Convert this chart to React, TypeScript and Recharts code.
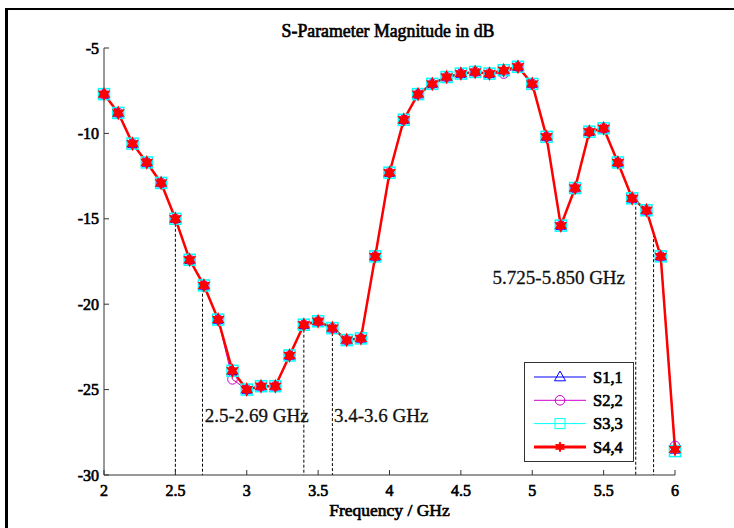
import React from 'react';
import { LineChart, Line, XAxis, YAxis, ReferenceLine, ReferenceDot } from 'recharts';

// Frequency sweep (GHz) and return-loss magnitudes (dB) for the four ports
const freqGHz = [
  2.0, 2.1, 2.2, 2.3, 2.4, 2.5, 2.6, 2.7, 2.8, 2.9,
  3.0, 3.1, 3.2, 3.3, 3.4, 3.5, 3.6, 3.7, 3.8, 3.9,
  4.0, 4.1, 4.2, 4.3, 4.4, 4.5, 4.6, 4.7, 4.8, 4.9,
  5.0, 5.1, 5.2, 5.3, 5.4, 5.5, 5.6, 5.7, 5.8, 5.9, 6.0,
];
const s11 = [
  -7.7, -8.8, -10.6, -11.7, -12.9, -15.0, -17.4, -18.9, -20.9, -23.9,
  -25.0, -24.8, -24.8, -23.0, -21.2, -21.0, -21.4, -22.1, -22.0, -17.2,
  -12.3, -9.2, -7.7, -7.1, -6.7, -6.5, -6.4, -6.5, -6.3, -6.1,
  -7.1, -10.2, -15.4, -13.2, -9.9, -9.7, -11.7, -13.8, -14.5, -17.2, -28.5,
];
const s22 = [
  -7.7, -8.8, -10.6, -11.7, -12.9, -15.0, -17.4, -18.9, -20.9, -24.4,
  -25.0, -24.8, -24.8, -23.0, -21.2, -21.0, -21.4, -22.1, -22.0, -17.2,
  -12.3, -9.2, -7.7, -7.1, -6.7, -6.5, -6.4, -6.5, -6.5, -6.1,
  -7.1, -10.2, -15.4, -13.2, -9.9, -9.7, -11.7, -13.8, -14.5, -17.2, -28.3,
];
const s33 = [
  -7.7, -8.8, -10.6, -11.7, -12.9, -15.0, -17.4, -18.9, -20.9, -23.9,
  -25.0, -24.8, -24.8, -23.0, -21.2, -21.0, -21.4, -22.1, -22.0, -17.2,
  -12.3, -9.2, -7.7, -7.1, -6.7, -6.5, -6.4, -6.5, -6.3, -6.1,
  -7.1, -10.2, -15.4, -13.2, -9.9, -9.7, -11.7, -13.8, -14.5, -17.2, -28.6,
];
const s44 = [
  -7.7, -8.8, -10.6, -11.7, -12.9, -15.0, -17.4, -18.9, -20.9, -23.9,
  -25.0, -24.8, -24.8, -23.0, -21.2, -21.0, -21.4, -22.1, -22.0, -17.2,
  -12.3, -9.2, -7.7, -7.1, -6.7, -6.5, -6.4, -6.5, -6.3, -6.1,
  -7.1, -10.2, -15.4, -13.2, -9.9, -9.7, -11.7, -13.8, -14.5, -17.2, -28.5,
];

const seriesNames = ['S1,1', 'S2,2', 'S3,3', 'S4,4'];

const xTicks = [2, 2.5, 3, 3.5, 4, 4.5, 5, 5.5, 6];
const yTicks = [-30, -25, -20, -15, -10, -5];

// Band edges (GHz) marked with dashed drop lines, and the curve level where each line starts
const bandEdges = [2.5, 2.69, 3.4, 3.6, 5.725, 5.85];
const bandEdgeTops = [-15.0, -18.8, -21.2, -21.4, -14.0, -15.9];
const bandLabels = ['2.5-2.69 GHz', '3.4-3.6 GHz', '5.725-5.850 GHz'];

const rows = freqGHz.map((f, i) => ({ f, s11: s11[i], s22: s22[i], s33: s33[i], s44: s44[i] }));

const SERIF = '"Liberation Serif", "Times New Roman", Times, serif';
const AXIS_COLOR = '#333';
// heavier strokes on the glyphs give the bold look
const BOLD_TEXT = { fill: '#000', stroke: '#000', strokeWidth: 0.65, fontFamily: SERIF, fontWeight: 'normal' as const };

// Anchor (left edge, vertical centre) of each band caption, in data units
const bandLabelAnchors = [
  { f: 2.705, db: -26.5 },
  { f: 3.611, db: -26.5 },
  { f: 4.722, db: -18.4 },
];

// ---- marker glyphs ----
const trianglePath = (cx: number, cy: number) =>
  `M${cx},${cy - 6} L${cx + 5.5},${cy + 3.8} L${cx - 5.5},${cy + 3.8} Z`;

const starPath = (cx: number, cy: number, outer = 6, inner = 3) => {
  const pts: string[] = [];
  for (let k = 0; k < 12; k++) {
    const r = k % 2 === 0 ? outer : inner;
    const a = (Math.PI / 6) * k - Math.PI / 2;
    pts.push(`${(cx + r * Math.cos(a)).toFixed(2)},${(cy + r * Math.sin(a)).toFixed(2)}`);
  }
  return `M${pts.join(' L')} Z`;
};

const TriangleDot = (props: any) => {
  const { cx, cy, index } = props;
  if (cx == null || cy == null) return <g key={`t${index}`} />;
  return <path key={`t${index}`} d={trianglePath(cx, cy)} fill="none" stroke="#0000ff" strokeWidth={1} />;
};

const CircleDot = (props: any) => {
  const { cx, cy, index } = props;
  if (cx == null || cy == null) return <g key={`c${index}`} />;
  return <circle key={`c${index}`} cx={cx} cy={cy} r={4.8} fill="none" stroke="#cc00cc" strokeWidth={1} />;
};

const SquareDot = (props: any) => {
  const { cx, cy, index } = props;
  if (cx == null || cy == null) return <g key={`q${index}`} />;
  return (
    <rect key={`q${index}`} x={cx - 5.5} y={cy - 5.5} width={11} height={11} fill="none" stroke="#00ffff" strokeWidth={1.5} />
  );
};

const StarDot = (props: any) => {
  const { cx, cy, index } = props;
  if (cx == null || cy == null) return <g key={`s${index}`} />;
  return <path key={`s${index}`} d={starPath(cx, cy)} fill="#ff0000" stroke="#ff0000" strokeWidth={1.2} />;
};

// ---- legend ----
const legendStyles = [
  { color: '#0000ff', width: 1, marker: 'triangle' },
  { color: '#cc00cc', width: 1, marker: 'circle' },
  { color: '#00ffff', width: 1, marker: 'square' },
  { color: '#ff0000', width: 3, marker: 'star' },
];

const LegendBox = () => (
  <svg width={110} height={100} style={{ display: 'block' }}>
    <rect x={0.5} y={0.5} width={109} height={99} fill="#fff" stroke={AXIS_COLOR} strokeWidth={1} />
    {seriesNames.map((name, i) => {
      const y = 15 + i * 23.3;
      const st = legendStyles[i];
      let glyph: React.ReactNode = null;
      if (st.marker === 'triangle') glyph = <path d={trianglePath(36, y)} fill="none" stroke={st.color} strokeWidth={1} />;
      if (st.marker === 'circle') glyph = <circle cx={36} cy={y} r={4.8} fill="none" stroke={st.color} strokeWidth={1} />;
      if (st.marker === 'square') glyph = <rect x={31} y={y - 5} width={10} height={10} fill="none" stroke={st.color} strokeWidth={1} />;
      if (st.marker === 'star') glyph = <path d={starPath(36, y, 5, 2.5)} fill={st.color} stroke={st.color} strokeWidth={1} />;
      return (
        <g key={name}>
          <line x1={10} y1={y} x2={62} y2={y} stroke={st.color} strokeWidth={st.width} />
          {glyph}
          <text x={69} y={y} dy="0.35em" fontSize={16.5} {...BOLD_TEXT}>
            {name}
          </text>
        </g>
      );
    })}
  </svg>
);

const BandLabel = (text: string) => (props: any) => {
  const { cx, cy } = props;
  return (
    <text
      x={cx}
      y={cy}
      dy="0.35em"
      fontFamily={SERIF}
      fontSize={19}
      fill="#111"
      stroke="#111"
      strokeWidth={0.3}
      textAnchor="start"
    >
      {text}
    </text>
  );
};

export default function App() {
  const tickStyle = { ...BOLD_TEXT, fontSize: 16 };
  return (
    <div style={{ position: 'absolute', left: 0, top: 0, width: 734, height: 528, overflow: 'hidden', background: '#fff' }}>
      {/* figure frame */}
      <div
        style={{
          position: 'absolute',
          left: 5,
          top: 8,
          width: 729,
          height: 520,
          boxSizing: 'border-box',
          borderLeft: '3px solid #000',
          borderTop: '2px solid #000',
        }}
      />
      <svg width={734} height={60} style={{ position: 'absolute', left: 0, top: 0 }}>
        <text x={388} y={31} dy="0.35em" textAnchor="middle" fontSize={17.8} {...BOLD_TEXT}>
          S-Parameter Magnitude in dB
        </text>
      </svg>
      <div style={{ position: 'absolute', left: 0, top: 0 }}>
        <LineChart width={734} height={528} data={rows} margin={{ top: 48, right: 59, bottom: 0, left: 0 }}>
          <XAxis
            dataKey="f"
            type="number"
            domain={[2, 6]}
            ticks={xTicks}
            height={53}
            tickSize={-5}
            tickMargin={15}
            stroke={AXIS_COLOR}
            tick={tickStyle}
            interval={0}
            label={{
              value: 'Frequency / GHz',
              position: 'insideBottom',
              offset: 12,
              style: { ...BOLD_TEXT, fontSize: 17.5 },
            }}
          />
          <XAxis
            xAxisId="top"
            orientation="top"
            type="number"
            domain={[2, 6]}
            ticks={xTicks}
            height={0}
            tickSize={-5}
            stroke={AXIS_COLOR}
            tick={false}
            interval={0}
          />
          <YAxis
            type="number"
            domain={[-30, -5]}
            ticks={yTicks}
            width={104}
            tickSize={-5}
            tickMargin={10}
            stroke={AXIS_COLOR}
            tick={tickStyle}
            interval={0}
          />
          <YAxis
            yAxisId="right"
            orientation="right"
            type="number"
            domain={[-30, -5]}
            ticks={yTicks}
            width={0}
            tickSize={-5}
            stroke={AXIS_COLOR}
            tick={false}
            interval={0}
          />
          {bandEdges.map((f, i) => (
            <ReferenceLine
              key={`edge${i}`}
              segment={[
                { x: f, y: bandEdgeTops[i] },
                { x: f, y: -30 },
              ]}
              stroke="#000"
              strokeWidth={1}
              strokeDasharray="3 2"
            />
          ))}
          {bandLabels.map((txt, i) => (
            <ReferenceDot
              key={`lbl${i}`}
              x={bandLabelAnchors[i].f}
              y={bandLabelAnchors[i].db}
              r={1}
              shape={BandLabel(txt)}
            />
          ))}
          <Line
            dataKey="s11"
            name={seriesNames[0]}
            stroke="#0000ff"
            strokeWidth={1}
            dot={TriangleDot}
            activeDot={false}
            isAnimationActive={false}
          />
          <Line
            dataKey="s22"
            name={seriesNames[1]}
            stroke="#cc00cc"
            strokeWidth={1}
            dot={CircleDot}
            activeDot={false}
            isAnimationActive={false}
          />
          <Line
            dataKey="s33"
            name={seriesNames[2]}
            stroke="#00ffff"
            strokeWidth={1}
            dot={SquareDot}
            activeDot={false}
            isAnimationActive={false}
          />
          <Line
            dataKey="s44"
            name={seriesNames[3]}
            stroke="#ff0000"
            strokeWidth={2.5}
            dot={StarDot}
            activeDot={false}
            isAnimationActive={false}
          />
        </LineChart>
      </div>
      <div style={{ position: 'absolute', left: 524, top: 362 }}>
        <LegendBox />
      </div>
    </div>
  );
}
